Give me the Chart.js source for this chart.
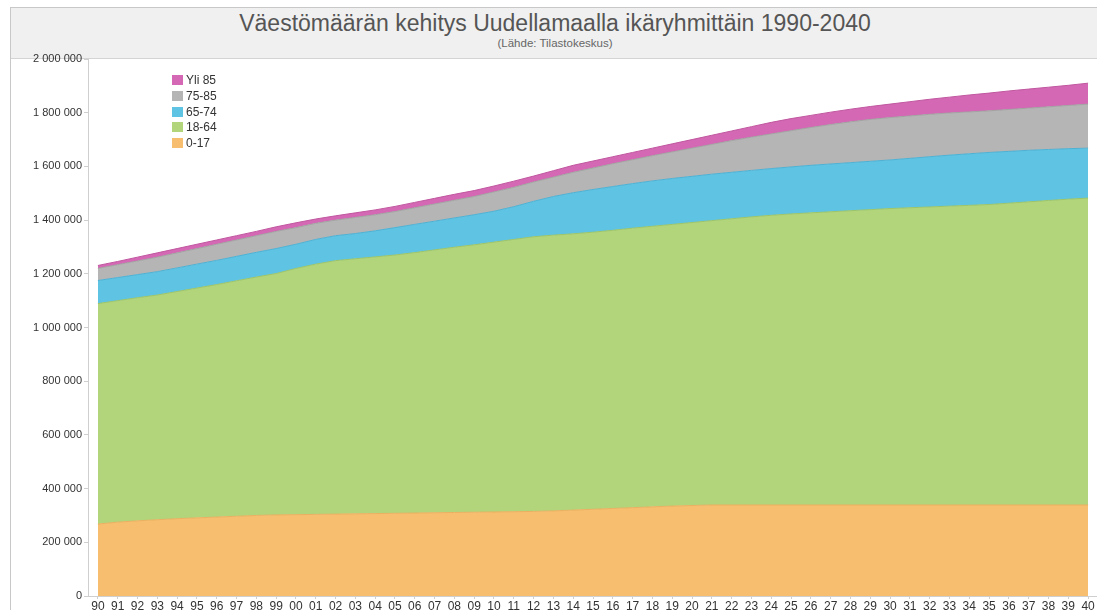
<!DOCTYPE html>
<html>
<head>
<meta charset="utf-8">
<script src="https://cdn.jsdelivr.net/npm/chart.js@4/dist/chart.umd.min.js"></script>
<style>
  body { margin: 0; background: #fff; font-family: "Liberation Sans", Arial, sans-serif; }
  #box { position: absolute; left: 10px; top: 7px; width: 1090px; height: 620px; border: 1px solid #c8c8c8; box-sizing: border-box; }
  #band { position: absolute; left: 0; top: 0; right: 0; height: 50px; background: #f0f0f0; border-bottom: 1px solid #d4d4d4; text-align: center; }
  #band .t { font-size: 23px; color: #555; padding-top: 2px; line-height: 27px; }
  #band .s { font-size: 11.5px; color: #666; line-height: 13px; }
  #chartWrap { position: absolute; left: 0; top: 0; width: 1087px; height: 603px; }
  #legend { position: absolute; left: 161px; top: 65px; font-size: 12px; color: #333; }
  #legend div { height: 15.8px; line-height: 15.8px; white-space: nowrap; }
  #legend span { display: inline-block; width: 11px; height: 10px; margin-right: 3px; vertical-align: -1px; }
</style>
</head>
<body>
<div id="box">
  <div id="band">
    <div class="t">Väestömäärän kehitys Uudellamaalla ikäryhmittäin 1990-2040</div>
    <div class="s">(Lähde: Tilastokeskus)</div>
  </div>
  <div id="chartWrap"><canvas id="chart"></canvas></div>
  <div id="legend"></div>
</div>

<script>
// years 1990-2040, two-digit labels
const years = ['90','91','92','93','94','95','96','97','98','99','00','01','02','03','04','05','06','07','08','09',
  '10','11','12','13','14','15','16','17','18','19','20','21','22','23','24','25','26','27','28','29',
  '30','31','32','33','34','35','36','37','38','39','40'];

// population per age group (persons)
const age0to17 = [268000,275000,280000,284000,288000,291000,294000,297000,300000,302000,
  303000,304000,305000,306000,307000,308000,309000,310000,311000,312000,
  313000,314000,315000,317000,320000,323000,326000,329000,332000,335000,
  337000,339000,339000,339000,339000,339000,339000,339000,339000,339000,
  339000,339000,339000,339000,339000,339000,339000,339000,339000,339000,339000];
const age18to64 = [821000,825000,831000,837000,846000,856000,866000,877000,888000,899000,
  917000,932000,944000,950000,956000,962000,970000,979000,988000,996000,
  1005000,1014000,1023000,1027000,1029000,1032000,1036000,1041000,1045000,1049000,
  1054000,1059000,1066000,1073000,1079000,1084000,1088000,1092000,1096000,1100000,
  1104000,1107000,1110000,1113000,1116000,1119000,1124000,1129000,1134000,1139000,1143000];
const age65to74 = [86000,86000,86000,87000,88000,89000,90000,91000,92000,93000,
  90000,92000,93000,94000,97000,102000,105000,107000,109000,112000,
  115000,122000,132000,144000,153000,159000,163000,166000,169000,171000,
  172000,173000,173000,173000,174000,175000,177000,178000,179000,180000,
  181000,184000,187000,190000,192000,194000,193000,192000,190000,188000,186000];
const age75to85 = [45000,48000,51000,54000,56000,58000,60000,61000,62000,64000,
  62000,60000,58000,60000,60000,60000,62000,64000,66000,68000,
  72000,72000,72000,72000,76000,80000,85000,89000,94000,99000,
  105000,111000,118000,124000,129000,135000,141000,147000,152000,156000,
  158000,158000,158000,157000,156000,155000,156000,157000,159000,161000,164000];
const ageOver85 = [11000,12000,14000,16000,16000,16000,16000,16000,16000,17000,
  18000,16000,16000,17000,18000,19000,20000,21000,22000,22000,
  22000,23000,22000,24000,26000,26000,26000,27000,28000,30000,
  32000,34000,36000,39000,43000,45000,45000,46000,47000,48000,
  50000,53000,56000,59000,63000,66000,69000,71000,73000,75000,78000];

const yTicks = [0, 200000, 400000, 600000, 800000, 1000000, 1200000, 1400000, 1600000, 1800000, 2000000];

const series = [
  { label: '0-17',   data: age0to17,  color: '#f6be6e', line: '#eab060' },
  { label: '18-64',  data: age18to64, color: '#b2d57b', line: '#9cc468' },
  { label: '65-74',  data: age65to74, color: '#5fc4e4', line: '#4eb0d2' },
  { label: '75-85',  data: age75to85, color: '#b5b5b5', line: '#a2a2a2' },
  { label: 'Yli 85', data: ageOver85, color: '#d468b4', line: '#c0579f' }
];

function fmt(v) {
  return String(v).replace(/\B(?=(\d{3})+(?!\d))/g, ' ');
}

const datasets = series.map((s, i) => ({
  label: s.label,
  data: s.data,
  backgroundColor: s.color,
  borderColor: s.line,
  borderWidth: 1,
  fill: i === 0 ? 'origin' : '-1',
  pointRadius: 0,
  tension: 0
}));

// legend, top item first
const legend = document.getElementById('legend');
series.slice().reverse().forEach(s => {
  const row = document.createElement('div');
  row.innerHTML = '<span style="background:' + s.color + '"></span>' + s.label;
  legend.appendChild(row);
});

const ctx = document.getElementById('chart').getContext('2d');
new Chart(ctx, {
  type: 'line',
  data: { labels: years, datasets: datasets },
  options: {
    responsive: true,
    maintainAspectRatio: false,
    animation: false,
    layout: { padding: { top: 51, right: 0, left: 0, bottom: 0 } },
    plugins: {
      legend: { display: false },
      tooltip: { enabled: false }
    },
    scales: {
      x: {
        stacked: true,
        offset: true,
        grid: { drawOnChartArea: false, tickLength: 3, color: '#cfcfcf', offset: false },
        border: { color: '#cfcfcf' },
        ticks: {
          autoSkip: false, maxRotation: 0, padding: 0,
          color: '#333', font: { family: 'Liberation Sans', size: 12 }
        },
        afterFit: (scale) => { scale.height = 15; }
      },
      y: {
        stacked: true,
        min: 0,
        max: 2000000,
        afterBuildTicks: (scale) => { scale.ticks = yTicks.map(v => ({ value: v })); },
        grid: { drawOnChartArea: false, tickLength: 4, color: '#cfcfcf' },
        border: { color: '#cfcfcf' },
        ticks: {
          padding: 2,
          color: '#333',
          font: { family: 'Liberation Sans', size: 11 },
          callback: (v) => fmt(v)
        },
        afterFit: (scale) => { scale.width = 77; }
      }
    }
  }
});
</script>
</body>
</html>
